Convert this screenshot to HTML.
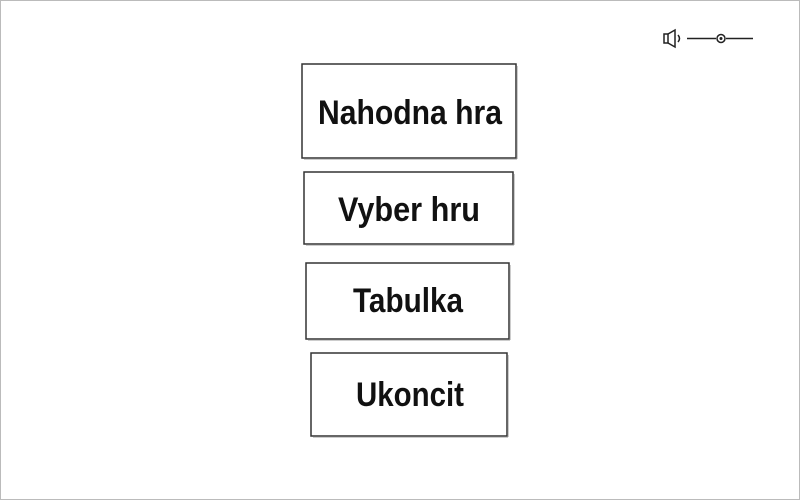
<!DOCTYPE html>
<html><head><style>
html,body{margin:0;padding:0;background:#fff}
</style></head><body>
<svg width="800" height="500" xmlns="http://www.w3.org/2000/svg" style="display:block">
<rect x="0.5" y="0.5" width="799" height="499" fill="#fff" stroke="#bbb"/>
<g fill="#fff" stroke="#333" stroke-width="1.5">
<rect x="302" y="64" width="214" height="94"/>
<rect x="304" y="172" width="209" height="72"/>
<rect x="306" y="263" width="203" height="76"/>
<rect x="311" y="353" width="196" height="83"/>
</g>
<g stroke="#999" stroke-width="1" fill="none">
<line x1="517" y1="66" x2="517" y2="159"/><line x1="304" y1="159" x2="517" y2="159"/>
<line x1="514" y1="174" x2="514" y2="245"/><line x1="306" y1="245" x2="514" y2="245"/>
<line x1="510" y1="265" x2="510" y2="340"/><line x1="308" y1="340" x2="510" y2="340"/>
<line x1="508" y1="355" x2="508" y2="437"/><line x1="313" y1="437" x2="508" y2="437"/>
</g>
<g font-family="Liberation Sans, sans-serif" font-weight="bold" font-size="34" fill="#111" text-anchor="middle">
<text x="410" y="124" textLength="184" lengthAdjust="spacingAndGlyphs">Nahodna hra</text>
<text x="409" y="221" textLength="142" lengthAdjust="spacingAndGlyphs">Vyber hru</text>
<text x="408" y="312" textLength="110" lengthAdjust="spacingAndGlyphs">Tabulka</text>
<text x="410" y="406" textLength="108" lengthAdjust="spacingAndGlyphs">Ukoncit</text>
</g>
<g stroke="#222" stroke-width="1.5" fill="none">
<rect x="664" y="34" width="4" height="9"/>
<path d="M668 34 L675 30 L675 47 L668 43"/>
<path d="M678 35 Q681 38.5 678 42"/>
<line x1="687" y1="38.5" x2="716" y2="38.5"/>
<line x1="726" y1="38.5" x2="753" y2="38.5"/>
<circle cx="721" cy="38.5" r="4"/>
</g>
<circle cx="721" cy="38.5" r="1.5" fill="#222"/>
</svg>
</body></html>
